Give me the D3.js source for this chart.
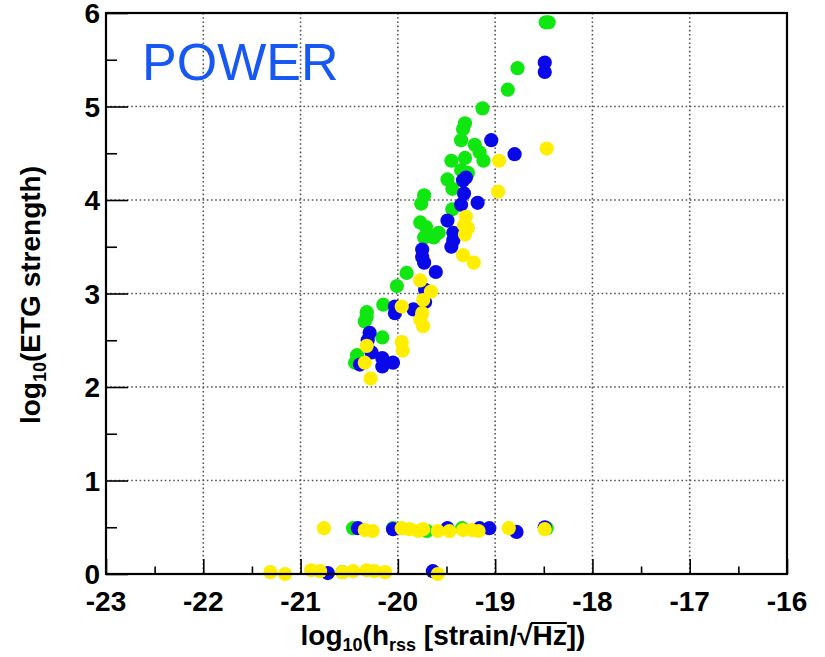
<!DOCTYPE html>
<html>
<head>
<meta charset="utf-8">
<script src="https://cdn.jsdelivr.net/npm/d3@7"></script>
<style>
  body { margin: 0; background: #fff; }
  text { font-family: "Liberation Sans", Arial, Helvetica, sans-serif; }
</style>
</head>
<body>
<div id="chart"></div>
<script>
// log10(hrss) vs log10(ETG strength)
const greenPts = [
  [-18.48,5.90],[-18.45,5.90],[-18.77,5.41],[-18.87,5.18],[-19.13,4.98],[-19.31,4.82],
  [-19.33,4.76],[-19.35,4.64],[-19.21,4.59],[-19.16,4.51],[-19.12,4.42],[-19.45,4.42],
  [-19.31,4.45],[-19.35,4.32],[-19.28,4.29],[-19.49,4.22],[-19.44,4.12],[-19.73,4.05],
  [-19.76,3.96],[-19.44,3.90],[-19.77,3.76],[-19.71,3.71],[-19.73,3.60],[-19.63,3.60],
  [-19.58,3.65],[-19.91,3.22],[-20.01,3.08],[-20.15,2.88],[-20.32,2.80],[-20.32,2.75],
  [-20.34,2.70],[-20.16,2.53],[-20.42,2.34],[-20.44,2.26],
  [-20.46,0.49],[-20.05,0.49],[-19.70,0.46],[-19.49,0.48],[-19.34,0.49],[-19.16,0.48],
  [-18.47,0.49],[-20.57,0.02]
]
const bluePts = [
  [-18.49,5.47],[-18.49,5.37],[-19.04,4.64],[-18.80,4.49],[-19.30,4.24],[-19.33,4.21],
  [-19.32,4.07],[-19.18,3.97],[-19.35,3.95],[-19.49,3.78],[-19.43,3.65],[-19.43,3.57],
  [-19.45,3.50],[-19.75,3.47],[-19.75,3.39],[-19.73,3.33],[-19.61,3.23],[-19.72,3.04],
  [-19.72,2.91],[-19.84,2.83],[-20.03,2.86],[-20.03,2.79],[-20.29,2.58],[-20.31,2.50],
  [-20.27,2.37],[-20.39,2.24],[-20.16,2.31],[-20.16,2.22],[-20.05,2.26],
  [-20.41,0.49],[-20.05,0.48],[-19.49,0.49],[-19.16,0.49],[-19.06,0.49],[-18.78,0.45],
  [-18.49,0.50],[-20.72,0.01],[-19.64,0.03]
]
const yellowPts = [
  [-18.47,4.55],[-18.96,4.42],[-18.97,4.09],[-19.30,3.82],[-19.32,3.73],[-19.28,3.70],
  [-19.31,3.63],[-19.33,3.41],[-19.22,3.33],[-19.77,3.14],[-19.66,3.02],[-19.74,2.93],
  [-19.96,2.86],[-19.75,2.79],[-19.77,2.72],[-19.74,2.65],[-20.32,2.44],[-20.34,2.26],
  [-19.96,2.48],[-19.95,2.39],[-20.28,2.09],
  [-20.76,0.49],[-20.34,0.47],[-20.26,0.46],[-19.96,0.49],[-19.88,0.48],[-19.79,0.46],
  [-19.74,0.48],[-19.59,0.46],[-19.47,0.46],[-19.33,0.47],[-19.24,0.47],[-19.17,0.46],
  [-18.86,0.49],[-18.49,0.48],
  [-21.31,0.02],[-21.16,0.00],[-20.89,0.04],[-20.80,0.03],[-20.57,0.02],[-20.46,0.03],
  [-20.32,0.04],[-20.24,0.03],[-20.13,0.02],[-19.59,0.00]
]
const series = [
  {name: "green", color: "#10e610", pts: greenPts},
  {name: "blue", color: "#0808e8", pts: bluePts},
  {name: "yellow", color: "#ffee00", pts: yellowPts}
]
const xTicks = [-23, -22, -21, -20, -19, -18, -17, -16]
const yTicks = [0, 1, 2, 3, 4, 5, 6]

var W = 825, H = 657
var margin = {top: 13, right: 38, bottom: 83, left: 106}
var width = W - margin.left - margin.right
var height = H - margin.top - margin.bottom

var svg = d3.select("#chart").append("svg")
    .attr("width", W)
    .attr("height", H)
var g = svg.append("g")
    .attr("transform", `translate(${margin.left}, ${margin.top})`)

const x = d3.scaleLinear().domain([-23, -16]).range([0, width])
const y = d3.scaleLinear().domain([0, 6]).range([height, 0])

// dotted grid
g.selectAll(".gx")
    .data(xTicks.slice(1, -1))
    .join("line")
    .attr("x1", d => x(d)).attr("x2", d => x(d))
    .attr("y1", 0).attr("y2", height)
    .style("stroke", "#555").style("stroke-width", 1.6)
    .style("stroke-dasharray", "1.6,2.6")
g.selectAll(".gy")
    .data(yTicks.slice(1, -1))
    .join("line")
    .attr("y1", d => y(d)).attr("y2", d => y(d))
    .attr("x1", 0).attr("x2", width)
    .style("stroke", "#555").style("stroke-width", 1.6)
    .style("stroke-dasharray", "1.6,2.6")

// ticks pointing inward
const xMinor = d3.range(-22.5, -16, 1)
const yMinor = d3.range(0.5, 6, 1)
var xAx = g.append("g").attr("transform", `translate(0, ${height})`)
xAx.call(d3.axisTop(x).tickValues(xTicks).tickSize(15).tickFormat(""))
xAx.append("g").call(d3.axisTop(x).tickValues(xMinor).tickSize(7.5).tickFormat(""))
var yAx = g.append("g")
yAx.call(d3.axisRight(y).tickValues(yTicks).tickSize(22).tickFormat(""))
yAx.append("g").call(d3.axisRight(y).tickValues(yMinor).tickSize(11).tickFormat(""))
g.selectAll(".domain").remove()
g.selectAll(".tick line").style("stroke", "#000").style("stroke-width", 1.6)

// tick labels
g.selectAll(".xl")
    .data(xTicks)
    .join("text")
    .attr("x", d => x(d)).attr("y", height + 37)
    .attr("text-anchor", "middle")
    .style("font-size", "28px").style("font-weight", "bold")
    .text(d => d)
g.selectAll(".yl")
    .data(yTicks)
    .join("text")
    .attr("x", -6).attr("y", d => y(d) + 10)
    .attr("text-anchor", "end")
    .style("font-size", "28px").style("font-weight", "bold")
    .text(d => d)

// markers
series.forEach(function(s) {
    g.append("g").selectAll("circle")
        .data(s.pts)
        .join("circle")
        .attr("cx", d => x(d[0]))
        .attr("cy", d => y(d[1]))
        .attr("r", 7.1)
        .style("fill", s.color)
})

// frame
g.append("rect")
    .attr("width", width).attr("height", height)
    .style("fill", "none").style("stroke", "#000").style("stroke-width", 2.2)

// POWER label
svg.append("text")
    .attr("x", 142).attr("y", 80)
    .style("font-size", "52px")
    .style("fill", "#1757f2")
    .text("POWER")

// y title
var yt = svg.append("text")
    .attr("transform", "translate(40, 295) rotate(-90)")
    .attr("text-anchor", "middle")
    .style("font-size", "28px").style("font-weight", "bold")
yt.append("tspan").text("log")
yt.append("tspan").attr("dy", 6).style("font-size", "18px").text("10")
yt.append("tspan").attr("dy", -6).text("(ETG strength)")

// x title
var xt = svg.append("text")
    .attr("x", 443).attr("y", 645)
    .attr("text-anchor", "middle")
    .style("font-size", "28px").style("font-weight", "bold")
xt.append("tspan").text("log")
xt.append("tspan").attr("dy", 6).style("font-size", "18px").text("10")
xt.append("tspan").attr("dy", -6).text("(h")
xt.append("tspan").attr("dy", 6).style("font-size", "18px").text("rss")
xt.append("tspan").attr("dy", -6).text(" [strain/\u221AHz])")

// overline for the root sign over "Hz"
var full = "log10(hrss [strain/\u221AHz])"
var i0 = full.indexOf("\u221A")
var n = xt.node()
var eRoot = n.getExtentOfChar(i0)
var eZ = n.getExtentOfChar(i0 + 2)
svg.append("line")
    .attr("x1", eRoot.x + eRoot.width - 1.5)
    .attr("x2", eZ.x + eZ.width)
    .attr("y1", eRoot.y + 3).attr("y2", eRoot.y + 3)
    .style("stroke", "#000").style("stroke-width", 2)
</script>
</body>
</html>
